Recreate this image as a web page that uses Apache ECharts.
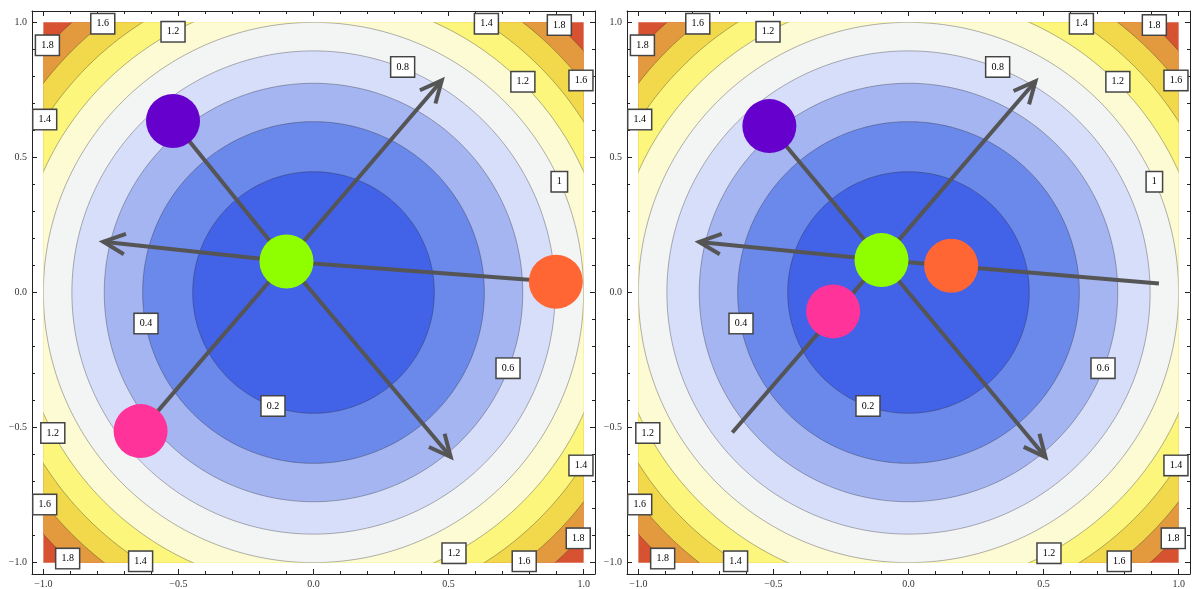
<!DOCTYPE html>
<html lang="en">
<head>
  <meta charset="utf-8">
  <script type="text/javascript" src="https://cdn.jsdelivr.net/npm/echarts@6/dist/echarts.min.js"></script>
</head>
<body style="margin: 0">
  <div id="main" style="width: 1193px; height: 589px"></div>

  <script type="text/javascript">
    // contour bands of f = x^2 + y^2, listed by upper level (outermost first)
    var bandTops = [2.0, 1.8, 1.6, 1.4, 1.2, 1.0, 0.8, 0.6, 0.4, 0.2];
    var bandColors = ['#d65230', '#e3993d', '#f2d84b', '#fcf67c', '#fdfbd4',
                      '#f3f4f4', '#d7defa', '#a4b5f2', '#6b88eb', '#4262e8'];

    // contour labels: x, y, text (same in both panels)
    var contourLabels = [
      [-0.78, 0.995, '1.6'], [-0.985, 0.915, '1.8'], [-0.52, 0.965, '1.2'],
      [-0.995, 0.64, '1.4'], [0.64, 0.995, '1.4'], [0.91, 0.99, '1.8'],
      [0.33, 0.835, '0.8'], [0.775, 0.78, '1.2'], [0.99, 0.785, '1.6'],
      [0.91, 0.41, '1'], [-0.62, -0.115, '0.4'], [0.72, -0.28, '0.6'],
      [-0.15, -0.42, '0.2'], [-0.965, -0.52, '1.2'], [-0.995, -0.785, '1.6'],
      [-0.91, -0.985, '1.8'], [-0.64, -0.995, '1.4'], [0.99, -0.64, '1.4'],
      [0.98, -0.91, '1.8'], [0.52, -0.965, '1.2'], [0.78, -0.995, '1.6']
    ];

    var majorTicks = [-1, -0.5, 0, 0.5, 1];
    var minorTicks = [-0.9, -0.8, -0.7, -0.6, -0.4, -0.3, -0.2, -0.1,
                      0.1, 0.2, 0.3, 0.4, 0.6, 0.7, 0.8, 0.9];

    // panel 1: segments from the hub (x1, y1, x2, y2, arrow?)
    var segments1 = [
      [-0.1, 0.115, -0.52, 0.635, 0],
      [-0.1, 0.115, 0.897, 0.04, 0],
      [-0.1, 0.115, -0.64, -0.513, 0],
      [-0.1, 0.115, 0.475, 0.785, 1],
      [-0.1, 0.115, -0.778, 0.188, 1],
      [-0.1, 0.115, 0.508, -0.609, 1]
    ];
    // dots: purple, orange, pink, green
    var dots1 = [[-0.52, 0.635], [0.897, 0.04], [-0.64, -0.513], [-0.1, 0.115]];

    // panel 2
    var segments2 = [
      [-0.1, 0.12, -0.515, 0.616, 0],
      [-0.1, 0.12, 0.927, 0.033, 0],
      [-0.1, 0.12, -0.652, -0.518, 0],
      [-0.1, 0.12, 0.47, 0.782, 1],
      [-0.1, 0.12, -0.775, 0.187, 1],
      [-0.1, 0.12, 0.507, -0.609, 1]
    ];
    var dots2 = [[-0.515, 0.616], [0.158, 0.099], [-0.279, -0.07], [-0.1, 0.12]];

    var dotColors = ['#6600cc', '#ff6633', '#ff3399', '#8fff00'];

    var chart = echarts.init(document.getElementById('main'));

    var AX_MIN = -1.042, AX_MAX = 1.042;
    var FONT = 'Liberation Serif';

    function fmt(v) {
      return (v < 0 ? '\u2212' : '') + Math.abs(v).toFixed(1);
    }

    function makeAxis(gi, pos, ticks, len, labels, line) {
      return {
        gridIndex: gi, type: 'value', position: pos,
        min: AX_MIN, max: AX_MAX,
        axisLine: { show: line, onZero: false, lineStyle: { color: '#222', width: 1 } },
        axisTick: { show: true, inside: true, length: len, customValues: ticks,
                    lineStyle: { color: '#222', width: 1 } },
        axisLabel: { show: labels, customValues: majorTicks, formatter: fmt,
                     margin: 5, fontSize: 10, fontFamily: FONT, color: '#333' },
        splitLine: { show: false }
      };
    }

    function renderBand(params, api) {
      var r = Math.sqrt(api.value(0));
      var pts = [];
      for (var k = 0; k < 240; k++) {
        var a = k / 240 * Math.PI * 2;
        pts.push(api.coord([r * Math.cos(a), r * Math.sin(a)]));
      }
      var tl = api.coord([-1, 1]), br = api.coord([1, -1]);
      return {
        type: 'polygon',
        z2: params.dataIndex,
        shape: { points: pts },
        style: {
          fill: bandColors[params.dataIndex],
          stroke: 'rgba(40,40,40,0.35)',
          lineWidth: 1
        },
        clipPath: {
          type: 'rect',
          shape: { x: tl[0], y: tl[1], width: br[0] - tl[0], height: br[1] - tl[1] }
        }
      };
    }

    function renderSegment(params, api) {
      var a = api.coord([api.value(0), api.value(1)]);
      var b = api.coord([api.value(2), api.value(3)]);
      var st = { stroke: '#555', lineWidth: 4, fill: null };
      var kids = [{ type: 'line', shape: { x1: a[0], y1: a[1], x2: b[0], y2: b[1] }, style: st }];
      if (api.value(4)) {
        var ang = Math.atan2(a[1] - b[1], a[0] - b[0]);
        var L = 24, w = 0.44;
        kids.push({
          type: 'polyline',
          shape: { points: [
            [b[0] + L * Math.cos(ang + w), b[1] + L * Math.sin(ang + w)],
            [b[0], b[1]],
            [b[0] + L * Math.cos(ang - w), b[1] + L * Math.sin(ang - w)]
          ] },
          style: { stroke: '#555', lineWidth: 4, fill: null, lineJoin: 'miter' }
        });
      }
      return { type: 'group', children: kids };
    }

    var grids = [
      { left: 32, top: 11, width: 563, height: 565 },
      { left: 627, top: 11, width: 563, height: 565 }
    ];
    var xAxes = [], yAxes = [], series = [];
    var panels = [[segments1, dots1], [segments2, dots2]];

    for (var gi = 0; gi < 2; gi++) {
      xAxes.push(makeAxis(gi, 'bottom', majorTicks, 5, true, true));
      xAxes.push(makeAxis(gi, 'bottom', minorTicks, 3, false, false));
      xAxes.push(makeAxis(gi, 'top', majorTicks, 5, false, true));
      xAxes.push(makeAxis(gi, 'top', minorTicks, 3, false, false));
      yAxes.push(makeAxis(gi, 'left', majorTicks, 5, true, true));
      yAxes.push(makeAxis(gi, 'left', minorTicks, 3, false, false));
      yAxes.push(makeAxis(gi, 'right', majorTicks, 5, false, true));
      yAxes.push(makeAxis(gi, 'right', minorTicks, 3, false, false));

      var xi = gi * 4, yi = gi * 4;
      series.push({
        type: 'custom', xAxisIndex: xi, yAxisIndex: yi, z: 1,
        renderItem: renderBand,
        data: bandTops.map(function (t) { return [t]; }),
        encode: { x: -1, y: -1 },
        silent: true
      });
      series.push({
        type: 'scatter', xAxisIndex: xi, yAxisIndex: yi, z: 2,
        symbolSize: 1, itemStyle: { color: 'rgba(0,0,0,0)', opacity: 1 },
        data: contourLabels,
        label: {
          show: true, position: 'inside',
          formatter: function (p) { return p.value[2]; },
          fontFamily: FONT, fontSize: 10, color: '#000',
          backgroundColor: '#fff', borderColor: '#444', borderWidth: 1.5,
          padding: [5, 5, 4, 5]
        },
        silent: true
      });
      series.push({
        type: 'custom', xAxisIndex: xi, yAxisIndex: yi, z: 3,
        renderItem: renderSegment,
        data: panels[gi][0],
        encode: { x: [0, 2], y: [1, 3] },
        silent: true
      });
      series.push({
        type: 'scatter', xAxisIndex: xi, yAxisIndex: yi, z: 4,
        symbolSize: 54,
        data: panels[gi][1],
        itemStyle: { color: function (p) { return dotColors[p.dataIndex]; }, opacity: 1 },
        silent: true
      });
    }

    chart.setOption({
      animation: false,
      grid: grids,
      xAxis: xAxes,
      yAxis: yAxes,
      series: series
    });
  </script>
</body>
</html>
